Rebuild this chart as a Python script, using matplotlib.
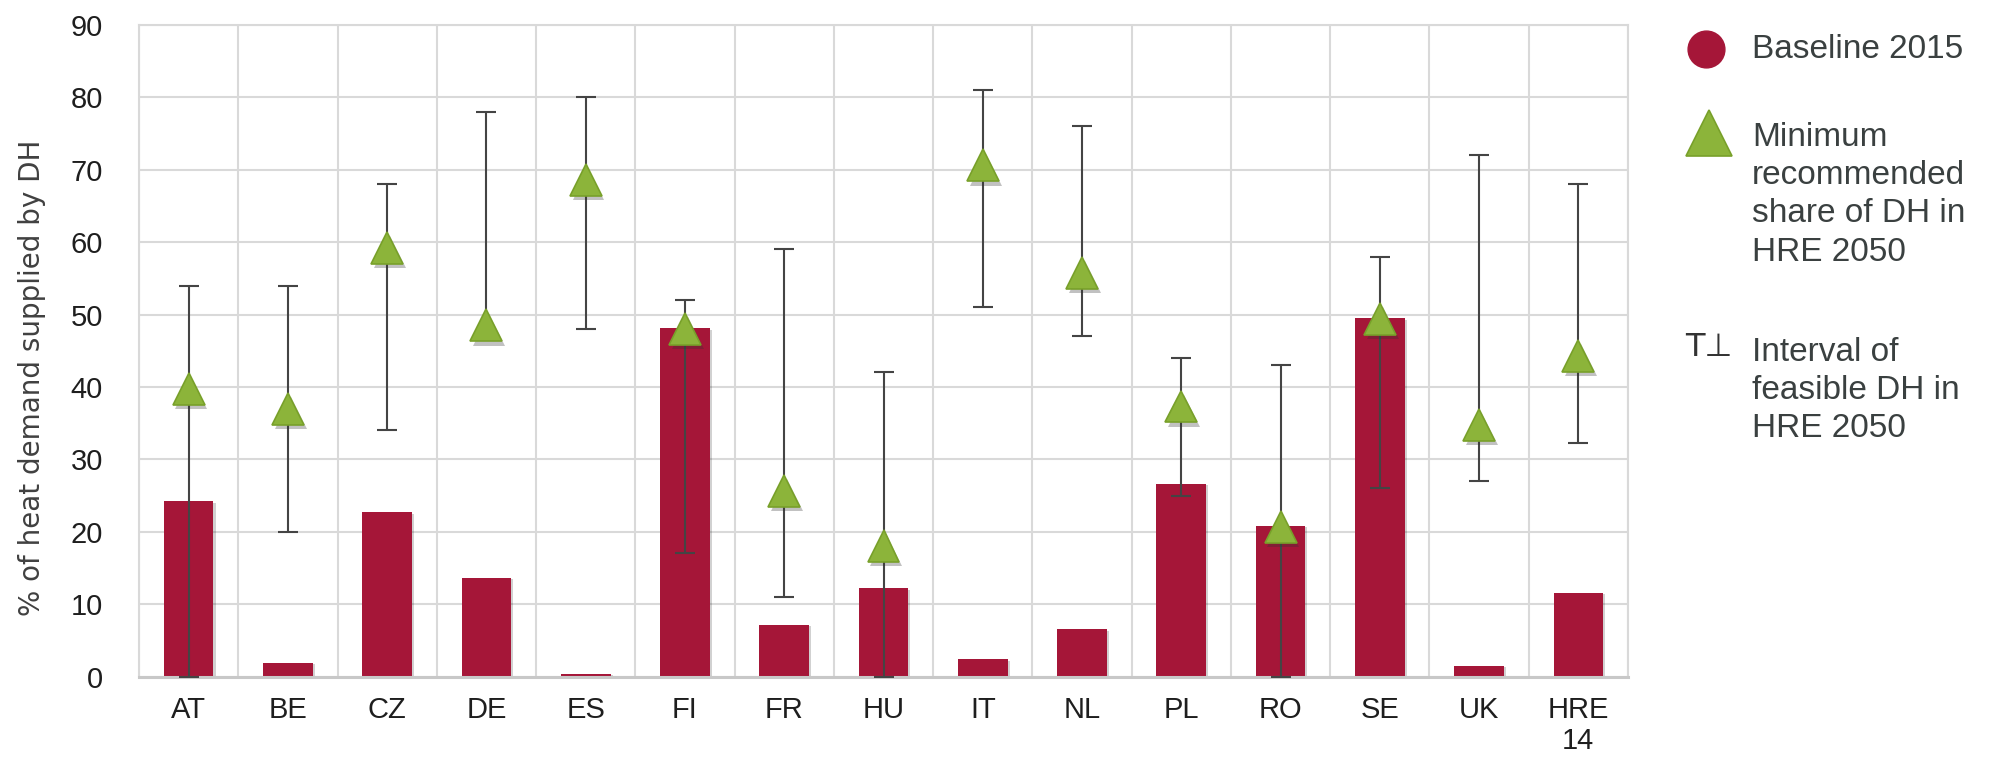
import matplotlib
matplotlib.use("Agg")
import matplotlib.pyplot as plt
import matplotlib.patheffects as pe
from matplotlib.lines import Line2D
import numpy as np

# Countries / scenario on the x axis
countries = ["AT", "BE", "CZ", "DE", "ES", "FI", "FR", "HU", "IT", "NL",
             "PL", "RO", "SE", "UK", "HRE\n14"]

# District heating share of heat demand (%)
baseline_2015 = [24.2, 1.9, 22.7, 13.6, 0.4, 48.1, 7.1, 12.2, 2.4, 6.5,
                 26.6, 20.8, 49.5, 1.5, 11.6]
min_recommended_2050 = [39.7, 37.0, 59.2, 48.5, 68.6, 48.0, 25.6, 18.0, 70.6, 55.7,
                        37.3, 20.7, 49.4, 34.7, 44.3]
feasible_low_2050 = [0.0, 20.0, 34.0, 48.0, 48.0, 17.0, 11.0, 0.0, 51.0, 47.0,
                     25.0, 0.0, 26.0, 27.0, 32.3]
feasible_high_2050 = [54.0, 54.0, 68.0, 78.0, 80.0, 52.0, 59.0, 42.0, 81.0, 76.0,
                      44.0, 43.0, 58.0, 72.0, 68.0]

legend_labels = ["Baseline 2015",
                 "Minimum\nrecommended\nshare of DH in\nHRE 2050",
                 "Interval of\nfeasible DH in\nHRE 2050"]

BAR_RED = "#A51638"
TRI_GREEN = "#8CB43A"
TRI_EDGE = "#78A02A"
ERR_GREY = "#444444"
GRID_GREY = "#D9D9D9"
TEXT_DARK = "#1E1E1E"
LEGEND_TEXT = "#3A4040"

W, H = 1989, 761
fig = plt.figure(figsize=(W / 100, H / 100), dpi=100)
fig.patch.set_facecolor("white")

left, right, bottom, top = 139, 1628, 676.5, 25
ax = fig.add_axes([left / W, 1 - bottom / H, (right - left) / W, (bottom - top) / H])

x = np.arange(len(countries))
base = np.array(baseline_2015)
tri = np.array(min_recommended_2050)
lo = np.array(feasible_low_2050)
hi = np.array(feasible_high_2050)

# Bars with a soft shadow
bars = ax.bar(x, base, width=0.5, color=BAR_RED, zorder=2)
for b in bars:
    b.set_path_effects([pe.SimplePatchShadow(offset=(1.5, -1), shadow_rgbFace="#000000", alpha=0.18),
                        pe.Normal()])

# Feasible interval as error bars around the recommended share
ax.errorbar(x, tri, yerr=[tri - lo, hi - tri], fmt="none", ecolor=ERR_GREY,
            elinewidth=1.5, capsize=7, capthick=1.5, zorder=3)

# Recommended minimum share as triangles
ax.plot(x, tri, linestyle="none", marker="^", markersize=23,
        markerfacecolor=TRI_GREEN, markeredgecolor=TRI_EDGE, markeredgewidth=1.2,
        zorder=4,
        path_effects=[pe.SimplePatchShadow(offset=(2, -3), shadow_rgbFace="#333333", alpha=0.3),
                      pe.Normal()])

ax.set_xlim(-0.5, len(countries) - 0.5)
ax.set_ylim(0, 90)
ax.set_yticks(np.arange(0, 91, 10))
ax.set_xticks(x)
ax.set_xticklabels(countries, fontsize=21, family="Liberation Sans", color=TEXT_DARK,
                   linespacing=1.15)
ax.set_xticks(np.arange(-0.5, len(countries), 1), minor=True)
for lab in ax.get_yticklabels():
    lab.set_fontsize(21)
    lab.set_family("Liberation Sans")
    lab.set_color(TEXT_DARK)

ax.tick_params(axis="both", which="both", length=0)
ax.tick_params(axis="x", which="major", pad=14)
ax.tick_params(axis="y", which="major", pad=26)

ax.grid(axis="y", which="major", color=GRID_GREY, linewidth=1.5, zorder=0)
ax.grid(axis="x", which="minor", color=GRID_GREY, linewidth=1.5, zorder=0)
ax.grid(axis="x", which="major", visible=False)
ax.set_axisbelow(True)
for name, sp in ax.spines.items():
    sp.set_color(GRID_GREY)
    sp.set_linewidth(1.5)
ax.spines["bottom"].set_color("#C8C8C8")
ax.spines["bottom"].set_linewidth(2.2)

# Y axis title
fig.text(32 / W, 1 - 378 / H, "% of heat demand supplied by DH", rotation=90,
         ha="center", va="center", fontsize=20, family="Liberation Sans Narrow",
         color="#404040")

# Legend drawn as separate markers and text blocks
def fy(py):
    return 1 - py / H

fig.add_artist(Line2D([1706 / W], [fy(49)], marker="o", markersize=26.5,
                      markerfacecolor=BAR_RED, markeredgecolor=BAR_RED,
                      linestyle="none", transform=fig.transFigure))
fig.add_artist(Line2D([1709 / W], [fy(133)], marker="^", markersize=33,
                      markerfacecolor=TRI_GREEN, markeredgecolor=TRI_EDGE,
                      markeredgewidth=1.2, linestyle="none", transform=fig.transFigure))
fig.text(1709 / W, fy(348), "T\u22a5", ha="center", va="center", fontsize=23,
         family=["DejaVu Sans"], color="#333333")

tx = 1752 / W
fig.text(tx, fy(49), legend_labels[0], ha="left", va="center", fontsize=24,
         family="Liberation Sans", color=LEGEND_TEXT)
fig.text(tx, fy(122), legend_labels[1], ha="left", va="top", fontsize=24,
         family="Liberation Sans", color=LEGEND_TEXT, linespacing=1.3)
fig.text(tx, fy(337), legend_labels[2], ha="left", va="top", fontsize=24,
         family="Liberation Sans", color=LEGEND_TEXT, linespacing=1.3)

fig.savefig("out.png", dpi=100, facecolor="white")
